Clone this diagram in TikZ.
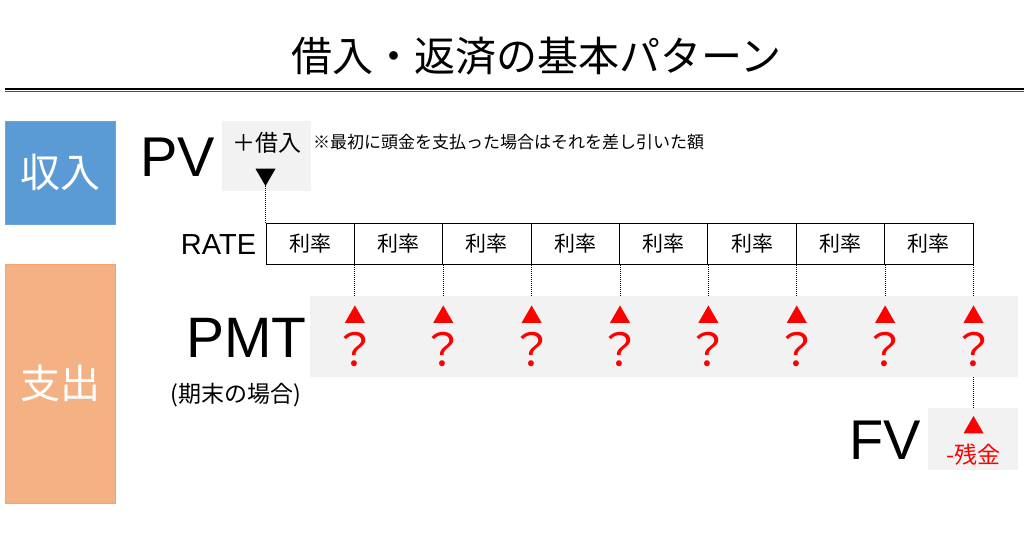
\documentclass[tikz,border=0pt]{standalone}
\usepackage{fontspec}
\setmainfont{Liberation Sans}
\newfontfamily\jp{Noto Sans CJK JP}
\usetikzlibrary{shapes.geometric}
\definecolor{bandgray}{HTML}{F2F2F2}
\definecolor{inblue}{HTML}{5B9BD5}
\definecolor{inblueedge}{HTML}{6AA6DC}
\definecolor{outorange}{HTML}{F4B183}
\definecolor{outorangeedge}{HTML}{F4A46C}
\definecolor{qred}{HTML}{FF0000}
\begin{document}
\begin{tikzpicture}[x=1pt,y=-1pt,
  catbox/.style={anchor=north west, inner sep=0pt, minimum width=110pt, text=white, font=\jp\fontsize{40}{40}\selectfont},
  graybox/.style={anchor=north west, inner sep=0pt, fill=bandgray},
  biglbl/.style={inner sep=0pt, font=\fontsize{56}{56}\selectfont},
  ratebox/.style={draw, line width=1pt, inner sep=0pt, minimum width=88.375pt, minimum height=41pt, font=\jp\fontsize{21}{21}\selectfont},
  uptri/.style={regular polygon, regular polygon sides=3, fill=qred, inner sep=0pt, outer sep=0pt, minimum size=23.1pt},
  downtri/.style={regular polygon, regular polygon sides=3, shape border rotate=180, fill=black, inner sep=0pt, outer sep=0pt, minimum size=23.1pt},
  qmark/.style={inner sep=0pt, text=qred, font=\jp\fontsize{45}{45}\selectfont},
  dotline/.style={densely dotted, line width=1pt},
]
\useasboundingbox (0,0) rectangle (1024,538);

% title
\node[inner sep=0pt, font=\jp\fontsize{41}{41}\selectfont] (title) at (536,56) {借入・返済の基本パターン};
\coordinate (ruleL) at (5,89);
\coordinate (ruleR) at (1024,89);
\draw[line width=2.2pt] (ruleL) -- (ruleR);
\draw[line width=1.2pt, black!70] ([yshift=-2.8pt]ruleL) -- ([yshift=-2.8pt]ruleR);

% category boxes
\node[catbox, fill=inblue, draw=inblueedge, minimum height=103pt] (income) at (5,121) {収入};
\node[catbox, fill=outorange, draw=outorangeedge, minimum height=239pt] (outgo) at (5,264) {支出};

% PV
\node[biglbl] (pv) at (177.5,157) {PV};
\node[graybox, minimum width=89pt, minimum height=70pt] (pvbox) at (222,121) {};
\node[inner sep=0pt, font=\jp\fontsize{23}{23}\selectfont] (borrow) at (266.5,143) {＋借入};
\node[inner sep=0pt, anchor=west, font=\jp\fontsize{17}{17}\selectfont] (note) at (313,142) {※最初に頭金を支払った場合はそれを差し引いた額};

% RATE row
\node[inner sep=0pt, font=\fontsize{29}{29}\selectfont] (rate) at (218.5,244.5) {RATE};
\foreach \i in {1,...,8}
  \node[ratebox] (r\i) at ({266+88.375*(\i-0.5)},244) {利率};

\coordinate (pvrow) at (0,174.5);
\node[downtri] (pvtri) at (r1.north west |- pvrow) {};
\draw[dotline] (pvtri.south) -- (r1.north west);

% PMT band
\node[graybox, minimum width=708pt, minimum height=81pt] (band) at (310,296) {};
\node[biglbl, font=\fontsize{57}{57}\selectfont] (pmt) at (246.5,337.5) {PMT};
\node[inner sep=0pt, font=\jp\fontsize{23}{23}\selectfont] (endperiod) at (236,395) {(期末の場合)};

\coordinate (trirow) at (0,317);
\coordinate (qrow) at (0,349);
\foreach \i in {1,...,8} {
  \node[uptri] (t\i) at (r\i.south east |- trirow) {};
  \node[qmark] (q\i) at (r\i.south east |- qrow) {？};
  \draw[dotline] (r\i.south east) -- (t\i |- band.north);
}

% FV
\node[graybox, minimum width=90pt, minimum height=62pt] (fvbox) at (928,408) {};
\node[biglbl] (fv) at (885.5,440) {FV};
\coordinate (fvrow) at (0,427.5);
\node[uptri] (fvtri) at (t8 |- fvrow) {};
\node[inner sep=0pt, text=qred, font=\jp\fontsize{23}{23}\selectfont] (rest) at (973,455) {-残金};
\draw[dotline] (t8 |- band.south) -- (t8 |- fvbox.north);
\end{tikzpicture}
\end{document}
